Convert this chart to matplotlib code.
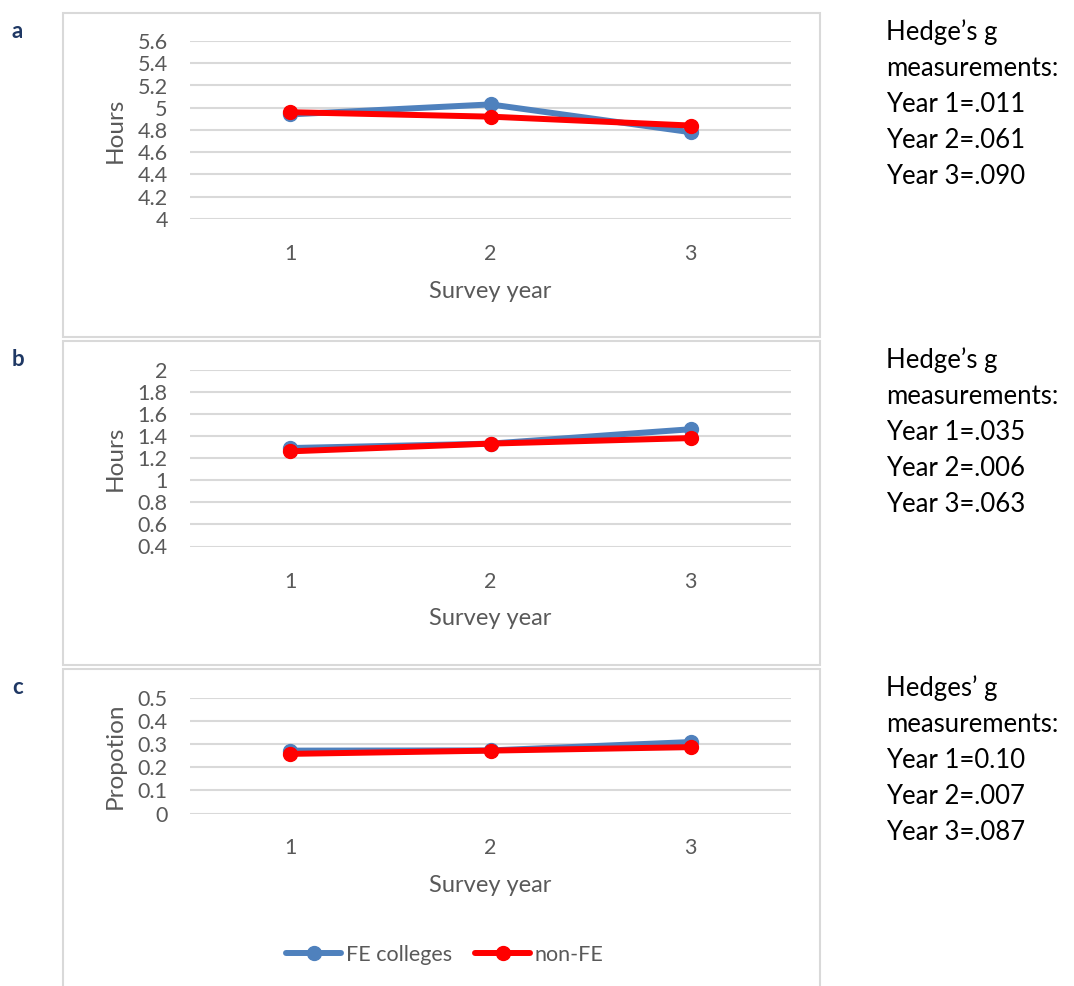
import matplotlib.pyplot as plt
from matplotlib.patches import Rectangle
from matplotlib.ticker import FuncFormatter
import numpy as np

plt.rcParams['font.family'] = ['Lato', 'DejaVu Sans']

# data
years = [1, 2, 3]
fe_a = [4.94, 5.03, 4.78]
nonfe_a = [4.96, 4.92, 4.84]
fe_b = [1.29, 1.33, 1.46]
nonfe_b = [1.26, 1.33, 1.38]
fe_c = [0.271, 0.272, 0.308]
nonfe_c = [0.257, 0.271, 0.286]

yticks_a = [4, 4.2, 4.4, 4.6, 4.8, 5, 5.2, 5.4, 5.6]
yticks_b = [0.4, 0.6, 0.8, 1, 1.2, 1.4, 1.6, 1.8, 2]
yticks_c = [0, 0.1, 0.2, 0.3, 0.4, 0.5]

ylabels = ['Hours', 'Hours', 'Propotion']
panel_letters = ['a', 'b', 'c']
notes = [
    ["Hedge\u2019s g", "measurements:", "Year 1=.011", "Year 2=.061", "Year 3=.090"],
    ["Hedge\u2019s g", "measurements:", "Year 1=.035", "Year 2=.006", "Year 3=.063"],
    ["Hedges\u2019 g", "measurements:", "Year 1=0.10", "Year 2=.007", "Year 3=.087"],
]

W, H = 1074, 986
fig = plt.figure(figsize=(W / 100, H / 100), dpi=100)

BLUE = '#4F81BD'
RED = '#FF0000'
GRID = '#D9D9D9'
TXT = '#595959'

# pixel boxes: (top gridline y, bottom gridline y) and frame (top, bottom)
plot_boxes = [(41, 219), (369.5, 546.5), (697.5, 813.5)]
frames = [(13, 337), (341, 665), (669, 1100)]
x0, x1 = 190, 791

def fx(px):
    return px / W

def fy(py):
    return 1 - py / H

series = [(fe_a, nonfe_a, yticks_a), (fe_b, nonfe_b, yticks_b), (fe_c, nonfe_c, yticks_c)]

for i, (fe, nonfe, yt) in enumerate(series):
    ftop, fbot = frames[i]
    fig.patches.append(Rectangle((fx(63), fy(fbot)), fx(820) - fx(63), fy(ftop) - fy(fbot),
                                 transform=fig.transFigure, fill=False,
                                 edgecolor=GRID, linewidth=1.5))
    top, bot = plot_boxes[i]
    ax = fig.add_axes([fx(x0), fy(bot), fx(x1) - fx(x0), fy(top) - fy(bot)])
    l1, = ax.plot(years, fe, color=BLUE, lw=4.3, marker='o', ms=10, label='FE colleges',
                  solid_capstyle='round', zorder=3, clip_on=False)
    l2, = ax.plot(years, nonfe, color=RED, lw=4.3, marker='o', ms=10, label='non-FE',
                  solid_capstyle='round', zorder=4, clip_on=False)
    ax.set_xlim(0.5, 3.5)
    ax.set_ylim(yt[0], yt[-1])
    ax.set_yticks(yt)
    ax.yaxis.set_major_formatter(FuncFormatter(lambda v, p: '{:g}'.format(round(v, 2))))
    ax.set_xticks(years)
    ax.grid(axis='y', color=GRID, lw=1.5)
    ax.set_axisbelow(True)
    for s in ax.spines.values():
        s.set_visible(False)
    ax.tick_params(axis='y', length=0, pad=16, labelsize=15.5, labelcolor=TXT)
    ax.tick_params(axis='x', length=0, pad=18, labelsize=15.5, labelcolor=TXT)
    ax.set_xlabel('Survey year', fontsize=17, color=TXT, labelpad=12)
    fig.text(fx(115), fy((top + bot) / 2), ylabels[i], rotation=90, fontsize=17.5,
             color=TXT, ha='center', va='center')
    fig.text(fx(12), fy(ftop + 19), panel_letters[i], fontsize=16, fontweight='bold',
             color='#1F3864', ha='left', va='center')
    for k, line in enumerate(notes[i]):
        fig.text(fx(886), fy(ftop + 19 + 36 * k), line, fontsize=18.5, color='black',
                 ha='left', va='center')

fig.legend(handles=[l1, l2], loc='center', bbox_to_anchor=(fx(445), fy(955)),
           ncol=2, frameon=False, fontsize=15.5, labelcolor=TXT, handlelength=2.55,
           handletextpad=0.2, columnspacing=1.1)

fig.savefig('out.png', dpi=100)
